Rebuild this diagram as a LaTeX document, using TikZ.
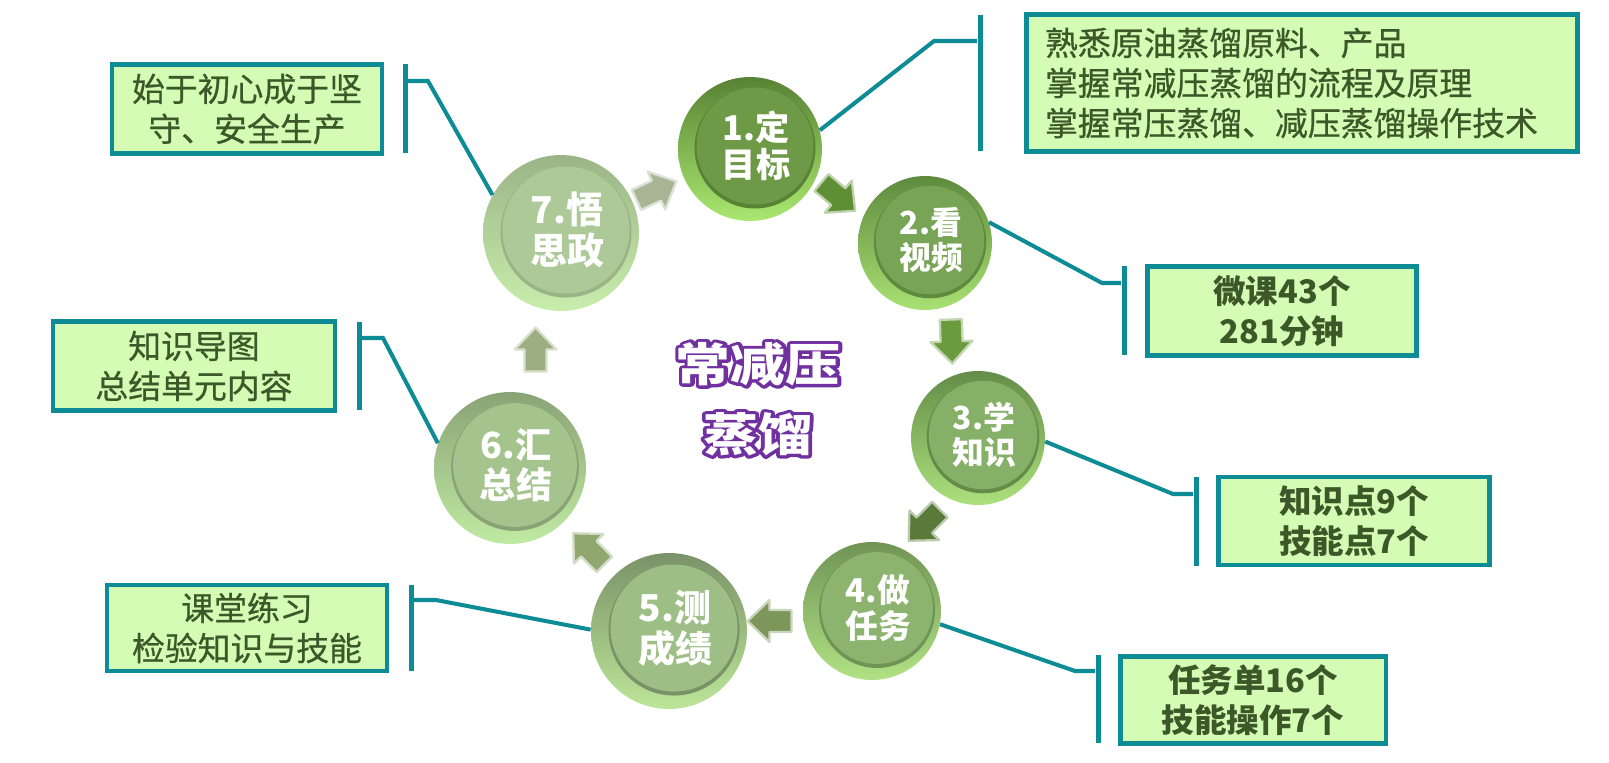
\documentclass[tikz,border=0pt]{standalone}
\usepackage{fontspec}
\setmainfont{Noto Sans CJK SC}
\newfontfamily\notefont[FakeBold=0.7]{Noto Sans CJK SC}
\usetikzlibrary{calc}
\definecolor{boxfill}{RGB}{212,252,180}
\definecolor{boxline}{RGB}{14,140,150}
\definecolor{boxtext}{RGB}{60,88,40}
\definecolor{titlecol}{RGB}{112,48,160}
% disc faces and rims, dark green (1) to pale (7)
\definecolor{face1}{RGB}{110,154,72}
\definecolor{face2}{RGB}{120,165,85}
\definecolor{face3}{RGB}{134,175,103}
\definecolor{face4}{RGB}{141,180,111}
\definecolor{face5}{RGB}{157,190,132}
\definecolor{face6}{RGB}{165,195,141}
\definecolor{face7}{RGB}{174,201,152}
\definecolor{rimlo1}{RGB}{88,130,52}
\definecolor{rimlo2}{RGB}{95,138,62}
\definecolor{rimlo3}{RGB}{100,140,72}
\definecolor{rimlo4}{RGB}{112,148,85}
\definecolor{rimlo5}{RGB}{122,146,104}
\definecolor{rimlo6}{RGB}{138,163,118}
\definecolor{rimlo7}{RGB}{155,180,135}
\definecolor{rimhi1}{RGB}{170,232,112}
\definecolor{rimhi2}{RGB}{168,225,115}
\definecolor{rimhi3}{RGB}{172,225,125}
\definecolor{rimhi4}{RGB}{176,226,132}
\definecolor{rimhi5}{RGB}{188,230,152}
\definecolor{rimhi6}{RGB}{192,234,162}
\definecolor{rimhi7}{RGB}{200,238,172}
\definecolor{arr1}{RGB}{94,143,52}
\definecolor{arr2}{RGB}{107,155,63}
\definecolor{arr3}{RGB}{90,122,58}
\definecolor{arr4}{RGB}{125,151,90}
\definecolor{arr5}{RGB}{144,168,112}
\definecolor{arr6}{RGB}{157,175,130}
\definecolor{arr7}{RGB}{167,181,149}
% stroke-only text (outline) for the title
\newcommand\strokeon{\special{pdf:literal direct 1 Tr 3.6 w 1 j 1 J}}
\newcommand\strokeoff{\special{pdf:literal direct 0 Tr 1 w}}

\begin{document}
\begin{tikzpicture}[
  x=0.02cm, y=0.02cm,
  note/.style={
    draw=boxline, line width=2.8pt, fill=boxfill, text=boxtext,
    align=center, inner sep=0pt,
    font=\notefont\fontsize{18.7pt}{22.8pt}\selectfont
  },
  bnote/.style={note, font=\fontsize{18.5pt}{22.8pt}\selectfont\bfseries},
  brk/.style={fill=boxline, inner sep=0pt, minimum width=0.1cm},
  link/.style={draw=boxline, line width=2.3pt},
  flowarr/.style={fill=#1, draw=#1!40!white, line width=1.3pt, line join=round},
  titletext/.style={align=center, inner sep=0pt, xscale=1.2, transform shape,
    font=\fontsize{26pt}{39.8pt}\selectfont\bfseries},
]
\useasboundingbox (0,0) rectangle (1609,-762);

% ---- Discs (rim, inset face, white label) ----
\foreach \n/\x/\y/\r/\txt in {1/750/-149/72/{1.定\\目标},
                             2/925/-243/67/{2.看\\视频},
                             3/978/-438/67/{3.学\\知识},
                             4/872/-611/69/{4.做\\任务},
                             5/669/-631/78/{5.测\\成绩},
                             6/510/-468/76/{6.汇\\总结},
                             7/561/-233/78/{7.悟\\思政}}{
  \pgfmathsetmacro\d{0.04*\r}
  \pgfmathsetmacro\rf{0.84*\r}
  \pgfmathsetmacro\fs{0.27*\r}
  \pgfmathsetmacro\ls{1.1*\fs}
  \node[circle, inner sep=0pt, minimum size=\d cm, top color=rimlo\n, bottom color=rimhi\n,
        path picture={
          \fill[rimlo\n] ([shift={(5,1)}]path picture bounding box.center) circle (\rf);
          \fill[face\n] ([shift={(5,3)}]path picture bounding box.center) circle (\rf-2);
        }] (c\n) at (\x,\y) {};
  \node[text=white, align=center, inner sep=0pt,
        font=\fontsize{\fs pt}{\ls pt}\selectfont\bfseries]
        (t\n) at ([shift={(6,3)}]c\n.center) {\txt};
}

% ---- Block arrows between discs ----
\foreach \a/\b/\ang in {1/2/-40, 2/3/-88, 3/4/-135, 4/5/180, 5/6/135, 6/7/90, 7/1/25}{
  \coordinate (a\a\b) at ($(c\a)!0.5!(c\b)$);
  \filldraw[flowarr=arr\a, shift={(a\a\b)}, rotate=\ang]
    (-21,-11) -- (1,-11) -- (1,-21) -- (23,0) -- (1,21) -- (1,11) -- (-21,11) -- cycle;
}

% ---- Notes ----
\node[note, minimum width=11.02cm, minimum height=2.74cm, text width=10.28cm, align=left]
  (bA) at (1302,-83) {熟悉原油蒸馏原料、产品\\掌握常减压蒸馏的流程及原理\\掌握常压蒸馏、减压蒸馏操作技术};
\node[bnote, minimum width=5.38cm, minimum height=1.78cm] (bB) at (1282,-311) {微课43个\\281分钟};
\node[bnote, minimum width=5.42cm, minimum height=1.76cm] (bC) at (1354,-521) {知识点9个\\技能点7个};
\node[bnote, minimum width=5.32cm, minimum height=1.74cm] (bD) at (1253,-700) {任务单16个\\技能操作7个};
\node[note, minimum width=5.6cm, minimum height=1.72cm] (bE) at (247,-628) {课堂练习\\检验知识与技能};
\node[note, minimum width=5.64cm, minimum height=1.78cm] (bF) at (194,-366) {知识导图\\总结单元内容};
\node[note, minimum width=5.4cm, minimum height=1.78cm] (bG) at (247,-109) {始于初心成于坚\\守、安全生产};

% ---- Brackets and elbows ----
\node[brk, minimum height=2.74cm] (kA) at (980,-83) {};
\node[brk, minimum height=1.78cm] (kB) at (1124,-310) {};
\node[brk, minimum height=1.78cm] (kC) at (1196,-521) {};
\node[brk, minimum height=1.76cm] (kD) at (1098,-699) {};
\node[brk, minimum height=1.72cm] (kE) at (411,-628) {};
\node[brk, minimum height=1.76cm] (kF) at (359,-366) {};
\node[brk, minimum height=1.78cm] (kG) at (405,-108) {};
\coordinate (eA) at (934,-41);
\coordinate (eB) at (1102,-283);
\coordinate (eC) at (1173,-494);
\coordinate (eD) at (1075,-671);
\coordinate (eE) at (436,-600);
\coordinate (eF) at (383,-338);
\coordinate (eG) at (428,-81);

% ---- Links ----
\foreach \c/\ang/\e/\k/\side in {1/15/eA/kA/west, 2/18/eB/kB/west, 3/-3/eC/kC/west,
                                 4/-11/eD/kD/west, 5/179/eE/kE/east, 6/161/eF/kF/east,
                                 7/151/eG/kG/east}
  \draw[link] (c\c.\ang) -- (\e) -- (\e -| \k.\side);

% ---- Title: purple outline under white letters ----
\node[titletext, text=titlecol] (titleline) at (758,-399) {\strokeon 常减压\\蒸馏\strokeoff};
\node[titletext, text=white] (title) at (758,-399) {常减压\\蒸馏};

\end{tikzpicture}
\end{document}
